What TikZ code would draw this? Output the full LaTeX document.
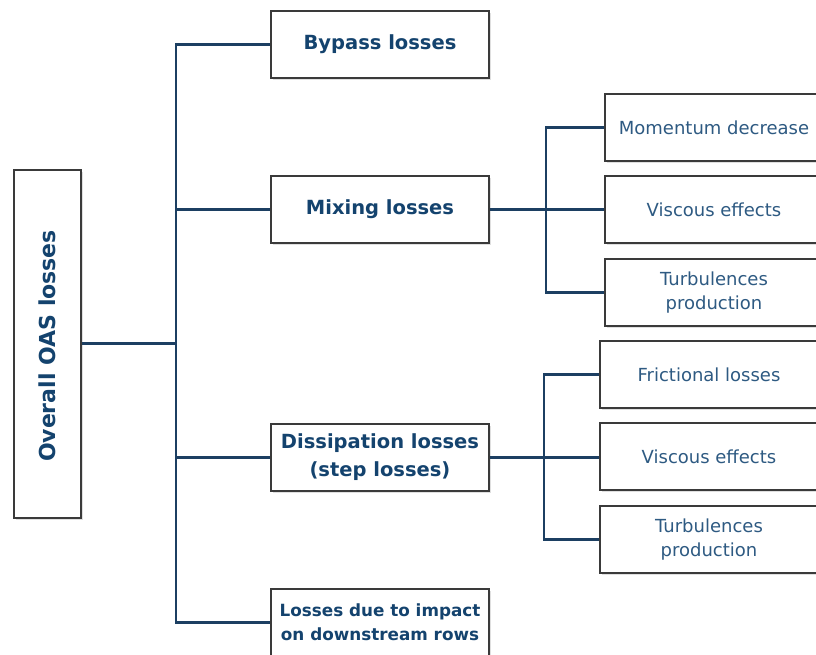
\documentclass[tikz,border=0pt]{standalone}
\usepackage{fontspec}
\setmainfont{DejaVu Sans}
\usetikzlibrary{shadows}
\definecolor{linec}{HTML}{1C3F62}
\definecolor{boldtxt}{HTML}{14436E}
\definecolor{regtxt}{HTML}{2E5A82}
\definecolor{boxline}{HTML}{3A3A3A}
\tikzset{
  box/.style={draw=boxline, line width=1.3pt, fill=white, minimum width=218pt, minimum height=67pt,
    inner sep=0pt, align=center, drop shadow={shadow xshift=1.5pt, shadow yshift=-1.5pt, opacity=0.25}},
  mainbox/.style={box, text=boldtxt, font=\bfseries\fontsize{19.5}{28}\selectfont},
  subbox/.style={box, text=regtxt, font=\fontsize{18}{24}\selectfont},
  conn/.style={draw=linec, line width=2.8pt},
}
\begin{document}
\begin{tikzpicture}[x=1pt,y=-1pt]
\useasboundingbox (0,0) rectangle (816,654);
\clip (0,0) rectangle (816,654);
\fill[white] (0,0) rectangle (816,654);
\coordinate (trunk) at (176,0);
\coordinate (mtrunk) at (546,0);
\coordinate (dtrunk) at (544,0);
\coordinate (lvl) at (0,343.5);
\node[mainbox, minimum width=67pt, minimum height=348pt] (overall) at (47.5,344) {};
\node[text=boldtxt, font=\bfseries\fontsize{22}{24}\selectfont, rotate=90] (overalltxt) at (47.5,346) {Overall OAS losses};
\node[mainbox] (bypass) at (380,44.5) {Bypass losses};
\node[mainbox] (mixing) at (380,209.5) {Mixing losses};
\node[mainbox] (diss) at (380,457.5) {Dissipation losses\\(step losses)};
\node[mainbox, font=\bfseries\fontsize{16.8}{24}\selectfont] (impact) at (380,622.5) {Losses due to impact\\on downstream rows};
\node[subbox] (mom) at (714,127.5) {Momentum decrease};
\node[subbox] (visc1) at (714,209.5) {Viscous effects};
\node[subbox] (turb1) at (714,292.5) {Turbulences\\production};
\node[subbox] (fric) at (709,374.5) {Frictional losses};
\node[subbox] (visc2) at (709,456.5) {Viscous effects};
\node[subbox] (turb2) at (709,539.5) {Turbulences\\production};
\draw[conn] (overall.east |- lvl) -- (trunk |- lvl);
\draw[conn] (bypass.west) -- (bypass.west -| trunk) |- (impact.west);
\draw[conn] (mixing.west) -- (mixing.west -| trunk);
\draw[conn] (diss.west) -- (diss.west -| trunk);
\draw[conn] (mixing.east) -- (visc1.west);
\draw[conn] (mom.west) -- (mom.west -| mtrunk) |- (turb1.west);
\draw[conn] (diss.east) -- (diss.east -| visc2.west);
\draw[conn] (fric.west) -- (fric.west -| dtrunk) |- (turb2.west);
\end{tikzpicture}
\end{document}
